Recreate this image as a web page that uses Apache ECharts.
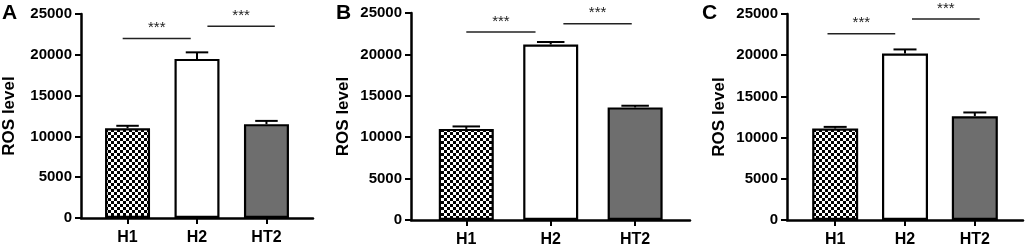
<!DOCTYPE html>
<html>
<head>
<meta charset="utf-8">
<script src="https://cdn.jsdelivr.net/npm/echarts@6/dist/echarts.min.js"></script>
<style>
    html, body {
        margin: 0;
        padding: 0;
        background: #fff;
    }

    #chart {
        width: 1026px;
        height: 248px;
    }
</style>
</head>
<body>
<div id="chart"></div>
<script>
    // 数据
    var categories = ['H1', 'H2', 'HT2'];
    var positions = [1, 2, 3];
    var panelLetters = ['A', 'B', 'C'];
    var yTicks = [0, 5000, 10000, 15000, 20000, 25000];

    var meansA = [11000, 19500, 11500];
    var errA = [300, 800, 400];
    var meansB = [11000, 21200, 13600];
    var errB = [300, 300, 200];
    var meansC = [11100, 20200, 12600];
    var errC = [200, 500, 450];

    // 显著性标记: [x起, x止, y]
    var sigA = [[0.93, 1.91, 22000], [2.15, 3.12, 23500]];
    var sigB = [[1.0, 1.82, 22700], [2.15, 2.96, 23700]];
    var sigC = [[0.89, 1.86, 22600], [2.10, 3.07, 24400]];
    var sigText = '***';

    var means = [meansA, meansB, meansC];
    var errs = [errA, errB, errC];
    var sigs = [sigA, sigB, sigC];

    // 棋盘格填充
    var checker = document.createElement('canvas');
    checker.width = 6;
    checker.height = 6;
    var cctx = checker.getContext('2d');
    cctx.fillStyle = '#fff';
    cctx.fillRect(0, 0, 6, 6);
    cctx.fillStyle = '#000';
    cctx.fillRect(0, 0, 3, 3);
    cctx.fillRect(3, 3, 3, 3);

    var fills = [{ image: checker, repeat: 'repeat' }, '#ffffff', '#6e6e6e'];

    var font = 'Liberation Sans, Arial, sans-serif';

    // 三个面板布局
    var grids = [
        { left: 81, top: 14, width: 232, height: 204 },
        { left: 411, top: 13, width: 279, height: 207 },
        { left: 787, top: 14, width: 236, height: 206 }
    ];
    var xRanges = [[0.33, 3.67], [0.345, 3.65], [0.31, 3.69]];
    var barWidths = [45, 55, 46];
    var letterPos = [2, 336, 702];
    var nameGaps = [63, 59, 59];

    var myChart = echarts.init(document.getElementById('chart'), null, { renderer: 'canvas' });

    var option = {
        animation: false,
        backgroundColor: '#fff',
        title: [],
        grid: [],
        xAxis: [],
        yAxis: [],
        series: []
    };

    for (var i = 0; i < 3; i++) {
        option.title.push({
            text: panelLetters[i],
            left: letterPos[i],
            top: 3,
            padding: 0,
            textStyle: { fontSize: 21, fontWeight: 'bold', color: '#000', fontFamily: font }
        });
        option.grid.push(grids[i]);
        option.xAxis.push({
            type: 'value',
            gridIndex: i,
            min: xRanges[i][0],
            max: xRanges[i][1],
            splitLine: { show: false },
            axisLine: { lineStyle: { color: '#000', width: 2.5 } },
            axisTick: { customValues: positions, length: 6, lineStyle: { color: '#000', width: 2 } },
            axisLabel: {
                customValues: positions,
                margin: 12,
                color: '#000',
                fontSize: 16,
                fontWeight: 'bold',
                fontFamily: font,
                formatter: function(v) {
                    return categories[Math.round(v) - 1];
                }
            }
        });
        option.yAxis.push({
            type: 'value',
            gridIndex: i,
            min: yTicks[0],
            max: yTicks[yTicks.length - 1],
            interval: yTicks[1] - yTicks[0],
            name: 'ROS level',
            nameLocation: 'middle',
            nameRotate: 90,
            nameGap: nameGaps[i],
            nameTextStyle: { fontSize: 17, fontWeight: 'bold', color: '#000', fontFamily: font },
            splitLine: { show: false },
            axisLine: { show: true, lineStyle: { color: '#000', width: 2.5 } },
            axisTick: { show: true, length: 6, lineStyle: { color: '#000', width: 2 } },
            axisLabel: {
                margin: 9,
                color: '#000',
                fontSize: 15,
                fontWeight: 'bold',
                fontFamily: font,
                formatter: function(v) {
                    return String(v);
                }
            }
        });

        var barData = [];
        var errData = [];
        for (var j = 0; j < categories.length; j++) {
            barData.push({
                value: [positions[j], means[i][j]],
                itemStyle: { color: fills[j] }
            });
            errData.push([positions[j], means[i][j], errs[i][j]]);
        }

        option.series.push({
            type: 'bar',
            xAxisIndex: i,
            yAxisIndex: i,
            barWidth: barWidths[i],
            data: barData,
            itemStyle: { borderColor: '#000', borderWidth: 2.2 },
            z: 2
        });

        (function(capW) {
            option.series.push({
                type: 'custom',
                xAxisIndex: i,
                yAxisIndex: i,
                data: errData,
                z: 3,
                renderItem: function(params, api) {
                    var x = api.value(0),
                        m = api.value(1),
                        e = api.value(2);
                    var base = api.coord([x, m]);
                    var top = api.coord([x, m + e]);
                    return {
                        type: 'group',
                        children: [{
                            type: 'line',
                            shape: { x1: base[0], y1: base[1], x2: top[0], y2: top[1] },
                            style: { stroke: '#000', lineWidth: 2 }
                        }, {
                            type: 'line',
                            shape: { x1: top[0] - capW / 2, y1: top[1], x2: top[0] + capW / 2, y2: top[1] },
                            style: { stroke: '#000', lineWidth: 2 }
                        }]
                    };
                }
            });
        })(barWidths[i] * 0.5);

        option.series.push({
            type: 'custom',
            xAxisIndex: i,
            yAxisIndex: i,
            data: sigs[i],
            z: 4,
            clip: false,
            renderItem: function(params, api) {
                var p1 = api.coord([api.value(0), api.value(2)]);
                var p2 = api.coord([api.value(1), api.value(2)]);
                return {
                    type: 'group',
                    children: [{
                        type: 'line',
                        shape: { x1: p1[0], y1: p1[1], x2: p2[0], y2: p2[1] },
                        style: { stroke: '#222', lineWidth: 1.6 }
                    }, {
                        type: 'text',
                        style: {
                            text: sigText,
                            x: (p1[0] + p2[0]) / 2,
                            y: p1[1] - 3,
                            align: 'center',
                            verticalAlign: 'bottom',
                            font: '15px ' + font,
                            fill: '#222'
                        }
                    }]
                };
            }
        });
    }

    myChart.setOption(option);

    window.onresize = function() {
        myChart.resize();
    };
</script>
</body>
</html>
